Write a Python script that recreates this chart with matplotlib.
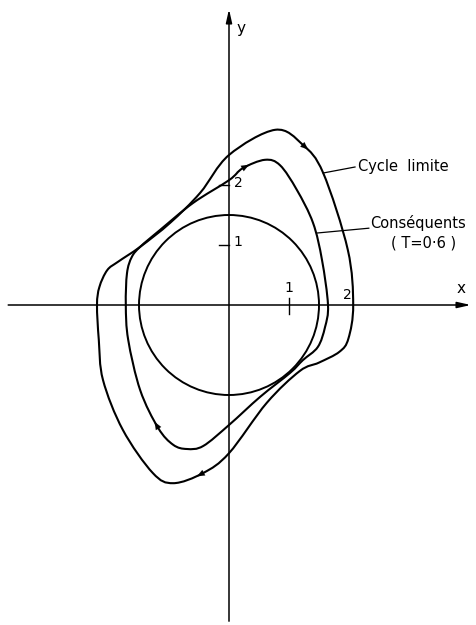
import matplotlib.pyplot as plt
import numpy as np
from matplotlib.path import Path
from matplotlib.patches import PathPatch, Circle

# closed trajectories in the (x, y) phase plane, listed clockwise
cycle_x = [0.0, 0.77, 1.23, 1.57, 1.98, 2.07, 1.99, 1.84, 1.50, 1.18, 0.63, 0.0,
           -0.43, -0.93, -1.27, -1.77, -2.10, -2.17, -2.20, -2.16, -2.03, -1.85,
           -1.48, -0.98, -0.48]
cycle_y = [2.50, 2.92, 2.67, 2.20, 0.92, 0.0, -0.56, -0.78, -0.96, -1.10, -1.63, -2.47,
           -2.80, -2.97, -2.80, -2.08, -1.25, -0.58, 0.0, 0.30, 0.58, 0.72,
           0.97, 1.37, 1.87]

conseq_x = [0.0, 0.23, 0.60, 0.85, 1.13, 1.40, 1.55, 1.65, 1.60, 1.48, 1.23, 1.02,
            0.52, 0.0, -0.43, -0.70, -0.93, -1.18, -1.48, -1.68, -1.72, -1.70,
            -1.62, -1.48, -1.15, -0.60]
conseq_y = [2.08, 2.28, 2.42, 2.33, 1.92, 1.37, 0.75, 0.0, -0.37, -0.70, -0.92, -1.13,
            -1.53, -2.00, -2.35, -2.40, -2.33, -2.05, -1.42, -0.58, 0.0, 0.53,
            0.80, 0.97, 1.25, 1.70]

circle_r = 1.5

# direction markers: index of the point the arrow sits on
cycle_arrows = [2, 12]
conseq_arrows = [1, 17]


def closed_path(xs, ys):
    p = np.column_stack([xs, ys])
    n = len(p)
    verts = [p[0]]
    codes = [Path.MOVETO]
    for i in range(n):
        p0, p1, p2, p3 = p[i - 1], p[i], p[(i + 1) % n], p[(i + 2) % n]
        verts += [p1 + (p2 - p0) / 6, p2 - (p3 - p1) / 6, p2]
        codes += [Path.CURVE4] * 3
    return Path(verts, codes)


def add_arrows(ax, xs, ys, idx):
    n = len(xs)
    for i in idx:
        d = np.array([xs[(i + 1) % n] - xs[i - 1], ys[(i + 1) % n] - ys[i - 1]])
        d = d / np.hypot(*d) * 0.12
        ax.annotate('', xy=(xs[i] + d[0], ys[i] + d[1]), xytext=(xs[i] - d[0], ys[i] - d[1]),
                    arrowprops=dict(arrowstyle='-|>,head_length=0.55,head_width=0.22',
                                    color='black', lw=0.1, shrinkA=0, shrinkB=0))


fig = plt.figure(figsize=(4.76, 6.25), dpi=100)
ax = fig.add_axes([0, 0, 1, 1])
ax.set_xlim(-229 / 60, 247 / 60)
ax.set_ylim(-320 / 60, 305 / 60)
ax.axis('off')

# axes with arrowheads
ax.annotate('', xy=(4.03, 0), xytext=(-3.68, 0),
            arrowprops=dict(arrowstyle='-|>,head_length=0.8,head_width=0.18',
                            color='black', lw=1.1, shrinkA=0, shrinkB=0))
ax.annotate('', xy=(0, 4.93), xytext=(0, -5.27),
            arrowprops=dict(arrowstyle='-|>,head_length=0.8,head_width=0.18',
                            color='black', lw=1.1, shrinkA=0, shrinkB=0))

# tick marks
ax.plot([1, 1], [-0.15, 0.12], color='black', lw=1)
ax.plot([-0.17, 0], [1, 1], color='black', lw=1)
ax.plot([-0.17, 0], [2, 2], color='black', lw=1)

tk = dict(fontsize=10, color='black', ha='center', va='center')
ax.text(1.0, 0.28, '1', **tk)
ax.text(1.98, 0.17, '2', **tk)
ax.text(0.15, 1.05, '1', **tk)
ax.text(0.15, 2.03, '2', **tk)
ax.text(0.2, 4.6, 'y', fontsize=11, ha='center', va='center')
ax.text(3.87, 0.27, 'x', fontsize=11, ha='center', va='center')

ax.add_patch(Circle((0, 0), circle_r, fill=False, color='black', lw=1.4))
ax.add_patch(PathPatch(closed_path(cycle_x, cycle_y), fill=False, color='black', lw=1.5))
ax.add_patch(PathPatch(closed_path(conseq_x, conseq_y), fill=False, color='black', lw=1.5))
add_arrows(ax, cycle_x, cycle_y, cycle_arrows)
add_arrows(ax, conseq_x, conseq_y, conseq_arrows)

# labels with leader lines
ax.plot([1.57, 2.1], [2.2, 2.3], color='black', lw=0.9)
ax.text(2.15, 2.3, 'Cycle  limite', fontsize=10.5, ha='left', va='center')
ax.plot([1.47, 2.33], [1.2, 1.28], color='black', lw=0.9)
ax.text(2.36, 1.36, 'Conséquents', fontsize=10.5, ha='left', va='center')
ax.text(3.25, 1.03, '( T=0·6 )', fontsize=10.5, ha='center', va='center')

fig.savefig('out.png', dpi=100)
